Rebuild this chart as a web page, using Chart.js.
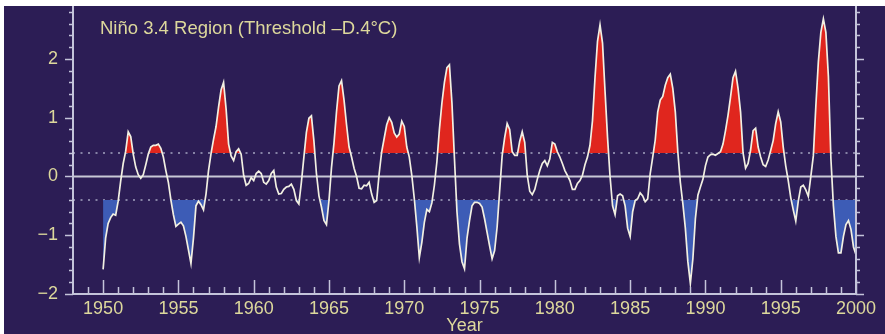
<!DOCTYPE html>
<html><head><meta charset="utf-8">
<script src="https://cdn.jsdelivr.net/npm/chart.js@4.4.1/dist/chart.umd.min.js"></script>
<style>html,body{margin:0;padding:0;background:#fff;overflow:hidden}canvas{display:block}</style>
</head><body>
<canvas id="c" width="885" height="334"></canvas>
<script>
// ---- data (Niño 3.4 SST anomaly, °C, read every 2 months from Jan 1950) ----
const startYear = 1950;
const stepsPerYear = 6;
const anomaly = [
  -1.58,-1.05,-0.80,-0.70,-0.64,-0.66, // 1950
  -0.42,-0.08, 0.22, 0.43, 0.76, 0.68, // 1951
   0.38, 0.16, 0.03,-0.03, 0.03, 0.20, // 1952
   0.38, 0.50, 0.53, 0.53, 0.55, 0.48, // 1953
   0.33, 0.10,-0.10,-0.40,-0.65,-0.85, // 1954
  -0.81,-0.78,-0.84,-1.02,-1.25,-1.48, // 1955
  -1.05,-0.50,-0.42,-0.48,-0.57,-0.30, // 1956
   0.10, 0.39, 0.63, 0.85, 1.18, 1.47, // 1957
   1.60, 1.15, 0.55, 0.35, 0.27, 0.42, // 1958
   0.47, 0.38, 0.02,-0.15,-0.12,-0.02, // 1959
  -0.07, 0.05, 0.09, 0.05,-0.10,-0.13, // 1960
  -0.07, 0.05, 0.10,-0.18,-0.30,-0.29, // 1961
  -0.22,-0.18,-0.17,-0.13,-0.22,-0.41, // 1962
  -0.47,-0.10, 0.33, 0.75, 0.99, 1.03, // 1963
   0.60, 0.05,-0.33,-0.52,-0.75,-0.82, // 1964
  -0.41, 0.15, 0.57, 1.10, 1.54, 1.63, // 1965
   1.30, 0.88, 0.50, 0.33, 0.14, 0.00, // 1966
  -0.20,-0.21,-0.15,-0.16,-0.10,-0.30, // 1967
  -0.44,-0.41, 0.05, 0.42, 0.65, 0.88, // 1968
   1.00, 0.92, 0.74, 0.67, 0.72, 0.94, // 1969
   0.85, 0.50, 0.33, 0.02,-0.38,-0.85, // 1970
  -1.38,-1.12,-0.78,-0.56,-0.60,-0.45, // 1971
  -0.15, 0.25, 0.80, 1.25, 1.60, 1.85, // 1972
   1.90, 1.25, 0.30,-0.60,-1.15,-1.45, // 1973
  -1.57,-1.05,-0.75,-0.50,-0.44,-0.44, // 1974
  -0.46,-0.52,-0.72,-0.95,-1.18,-1.40, // 1975
  -1.26,-0.86,-0.25, 0.35, 0.66, 0.90, // 1976
   0.80, 0.42, 0.36, 0.36, 0.60, 0.76, // 1977
   0.58, 0.02,-0.25,-0.31,-0.22,-0.05, // 1978
   0.10, 0.22, 0.27, 0.18, 0.30, 0.58, // 1979
   0.55, 0.42, 0.33, 0.22, 0.10, 0.02, // 1980
  -0.07,-0.22,-0.22,-0.12,-0.07, 0.02, // 1981
   0.20, 0.33, 0.53, 0.95, 1.68, 2.30, // 1982
   2.58, 2.27, 1.45, 0.66, 0.00,-0.50, // 1983
  -0.65,-0.33,-0.30,-0.33,-0.50,-0.88, // 1984
  -1.02,-0.60,-0.41,-0.38,-0.28,-0.33, // 1985
  -0.43,-0.38, 0.05, 0.33, 0.62, 1.10, // 1986
   1.30, 1.36, 1.55, 1.68, 1.74, 1.50, // 1987
   1.10, 0.42,-0.10,-0.46,-0.88,-1.45, // 1988
  -1.82,-1.40,-0.72,-0.32,-0.18,-0.05, // 1989
   0.18, 0.33, 0.37, 0.38, 0.36, 0.39, // 1990
   0.42, 0.55, 0.78, 1.04, 1.35, 1.68, // 1991
   1.79, 1.50, 1.10, 0.40, 0.14, 0.22, // 1992
   0.45, 0.78, 0.82, 0.50, 0.33, 0.20, // 1993
   0.17, 0.28, 0.44, 0.61, 0.90, 1.10, // 1994
   0.93, 0.50, 0.18,-0.07,-0.36,-0.57, // 1995
  -0.76,-0.42,-0.18,-0.15,-0.23,-0.34, // 1996
   0.00, 0.35, 1.20, 1.95, 2.45, 2.68, // 1997
   2.45, 1.70, 0.30,-0.50,-1.02,-1.30, // 1998
  -1.30,-1.02,-0.82,-0.75,-0.90,-1.20, // 1999
  -1.33                                 // 2000
];
const xRange = [1948, 2000];
const yRange = [-2, 2.9];
const xMajorTicks = [1950, 1955, 1960, 1965, 1970, 1975, 1980, 1985, 1990, 1995, 2000];
const yMajorTicks = [-2, -1, 0, 1, 2];
const warmThreshold = 0.4;
const coldThreshold = -0.4;
const titleText = 'Niño 3.4 Region (Threshold –D.4°C)';
const xTitle = 'Year';

// ---- styles ----
const panelColor = '#2c1d55';
const axisColor = '#c4c4da';
const textColor = '#ddd89c';
const lineColor = '#f2f0e2';
const warmColor = '#e0261e';
const coldColor = '#3d5cb6';
const fontFamily = '"Liberation Sans", Arial, sans-serif';

const points = anomaly.map((v, i) => ({x: startYear + i / stepsPerYear, y: v}));
const hline = v => [{x: xRange[0], y: v}, {x: xRange[1], y: v}];

const framePlugin = {
  id: 'frame',
  beforeDraw(chart) {
    const c = chart.ctx;
    c.save();
    c.fillStyle = '#ffffff';
    c.fillRect(0, 0, chart.width, chart.height);
    c.fillStyle = panelColor;
    c.fillRect(4, 6, chart.width - 4, chart.height - 6);
    c.restore();
  },
  afterDraw(chart) {
    const {ctx, chartArea: a, scales: {x, y}} = chart;
    ctx.save();
    ctx.strokeStyle = axisColor;
    ctx.lineWidth = 2;
    ctx.beginPath();
    ctx.moveTo(a.left, a.top); ctx.lineTo(a.left, a.bottom); ctx.lineTo(a.right, a.bottom);
    ctx.moveTo(a.right, a.top); ctx.lineTo(a.right, a.bottom);
    ctx.stroke();
    ctx.lineWidth = 1.5;
    ctx.beginPath();
    for (let k = -10; k <= 14; k++) {
      const v = k / 5;
      const py = Math.round(y.getPixelForValue(v)) + 0.5;
      const len = k % 5 === 0 ? 8 : 4;
      ctx.moveTo(a.left - len, py); ctx.lineTo(a.left, py);
      ctx.moveTo(a.right, py); ctx.lineTo(a.right + len, py);
    }
    for (let yr = xRange[0] + 1; yr <= xRange[1]; yr++) {
      const px = Math.round(x.getPixelForValue(yr)) + 0.5;
      const len = xMajorTicks.includes(yr) ? 14 : 7;
      ctx.moveTo(px, a.bottom); ctx.lineTo(px, a.bottom - len);
    }
    ctx.stroke();
    ctx.fillStyle = textColor;
    ctx.font = '18.5px ' + fontFamily;
    ctx.textBaseline = 'alphabetic';
    ctx.textAlign = 'left';
    ctx.fillText(titleText, a.left + 27, 34);
    ctx.restore();
  }
};

new Chart(document.getElementById('c'), {
  type: 'line',
  data: {
    datasets: [
      {
        label: 'anomaly',
        data: points,
        borderColor: lineColor,
        borderWidth: 1.7,
        pointRadius: 0,
        tension: 0,
        fill: {target: {value: warmThreshold}, above: warmColor, below: 'rgba(0,0,0,0)'}
      },
      {
        label: 'cold',
        data: points,
        borderWidth: 0,
        borderColor: 'rgba(0,0,0,0)',
        pointRadius: 0,
        tension: 0,
        fill: {target: {value: coldThreshold}, above: 'rgba(0,0,0,0)', below: coldColor}
      },
      {
        label: 'zero',
        data: hline(0),
        borderColor: '#c8c8d6',
        borderWidth: 2,
        pointRadius: 0,
        fill: false
      },
      {
        label: 'warm threshold',
        data: hline(warmThreshold),
        borderColor: '#a4a4c0',
        borderWidth: 1.6,
        borderDash: [2, 5.5],
        pointRadius: 0,
        fill: false
      },
      {
        label: 'cold threshold',
        data: hline(coldThreshold),
        borderColor: '#a4a4c0',
        borderWidth: 1.6,
        borderDash: [2, 5.5],
        pointRadius: 0,
        fill: false
      }
    ]
  },
  options: {
    responsive: false,
    animation: false,
    devicePixelRatio: 1,
    layout: {padding: {left: 0, right: 29, top: 6, bottom: 0}},
    plugins: {legend: {display: false}, tooltip: {enabled: false}},
    scales: {
      x: {
        type: 'linear',
        min: xRange[0], max: xRange[1],
        grid: {display: false, drawTicks: false},
        border: {display: false},
        afterBuildTicks: s => { s.ticks = xMajorTicks.map(v => ({value: v})); },
        afterFit: s => { s.height = 40; s.paddingLeft = 0; s.paddingRight = 0; },
        ticks: {
          color: textColor, font: {family: fontFamily, size: 18}, padding: 4,
          maxRotation: 0, autoSkip: false,
          callback: v => String(v)
        },
        title: {display: true, text: xTitle, color: textColor, font: {family: fontFamily, size: 18}, padding: {top: 0, bottom: -3}}
      },
      y: {
        min: yRange[0], max: yRange[1],
        grid: {display: false, drawTicks: false},
        border: {display: false},
        afterBuildTicks: s => { s.ticks = yMajorTicks.map(v => ({value: v})); },
        afterFit: s => { s.width = 73; s.paddingTop = 0; s.paddingBottom = 0; },
        ticks: {
          color: textColor, font: {family: fontFamily, size: 18}, padding: 15,
          callback: v => (v < 0 ? '\u2212' + Math.abs(v) : String(v))
        }
      }
    }
  },
  plugins: [framePlugin]
});
</script>
</body></html>
